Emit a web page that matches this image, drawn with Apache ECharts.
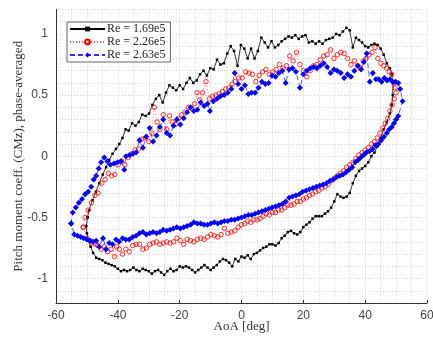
<!DOCTYPE html>
<html>
<head>
<meta charset="utf-8">
<script src="https://cdn.jsdelivr.net/npm/echarts@6/dist/echarts.min.js"></script>
<style>html,body{margin:0;padding:0;background:#fff}#c{width:433px;height:338px}</style>
</head>
<body>
<div id="c"></div>
<script>
const seriesNames = ['Re = 1.69e5', 'Re = 2.26e5', 'Re = 2.63e5'];
const xTicks = [-60, -40, -20, 0, 20, 40, 60];
const yTicks = [-1, -0.5, 0, 0.5, 1];

const blackAoA = [
-49.8,-49.3,-48.2,-47.1,-46.0,-44.9,-43.8,-42.8,-41.7,-40.6,
-39.5,-38.5,-37.5,-36.5,-35.4,-34.3,-33.2,-32.1,-31.0,-29.9,
-28.8,-27.7,-26.6,-25.5,-24.4,-23.3,-22.2,-21.1,-20.0,-18.9,
-17.8,-16.7,-15.6,-14.5,-13.4,-12.3,-11.2,-10.1,-9.0,-7.9,
-6.8,-5.7,-4.6,-3.5,-2.4,-1.3,-0.2,0.9,2.0,3.1,
4.2,5.3,6.4,7.5,8.6,9.7,10.8,11.9,13.0,14.1,
15.2,16.3,17.4,18.5,19.6,20.7,21.8,22.9,24.0,25.1,
26.2,27.3,28.4,29.5,30.6,31.7,32.8,33.9,35.0,36.0,
37.0,38.0,39.0,40.0,41.0,42.0,43.0,44.0,45.0,46.0,
47.0,48.0,48.6,49.0,
48.9,48.6,48.0,47.0,46.0,45.0,44.0,43.0,42.0,41.0,
40.0,39.0,38.0,37.0,36.0,35.0,34.0,33.0,32.0,31.0,
30.0,29.0,28.0,27.0,26.0,25.0,24.0,23.0,22.0,21.0,
20.0,19.0,18.0,17.0,16.0,15.0,14.0,13.0,12.0,11.0,
10.0,9.0,8.0,7.0,6.0,5.0,4.0,3.0,2.0,1.0,
0.0,-1.0,-2.0,-3.0,-4.0,-5.0,-6.0,-7.0,-8.0,-9.0,
-10.0,-11.0,-12.0,-13.0,-14.0,-15.0,-16.0,-17.0,-18.0,-19.0,
-20.0,-21.0,-22.0,-23.0,-24.0,-25.0,-26.0,-27.0,-28.0,-29.0,
-30.0,-31.0,-32.0,-33.0,-34.0,-35.0,-36.0,-37.0,-38.0,-39.0,
-40.0,-41.0,-42.0,-43.0,-44.0,-45.0,-46.0,-47.0,-48.0,-48.8,
-49.5,-50.0,-50.2,-49.8
];
const blackCm = [
-0.50,-0.44,-0.36,-0.29,-0.22,-0.15,-0.09,-0.03,0.02,0.06,
0.10,0.15,0.22,0.21,0.27,0.25,0.28,0.34,0.33,0.35,
0.42,0.47,0.50,0.44,0.52,0.58,0.56,0.54,0.58,0.55,
0.60,0.64,0.60,0.62,0.67,0.70,0.66,0.72,0.71,0.79,
0.75,0.76,0.84,0.90,0.86,0.74,0.91,0.88,0.80,0.88,
0.80,0.86,0.97,0.93,0.89,0.94,0.89,0.91,0.94,0.96,
0.98,0.97,0.99,0.96,0.98,0.99,0.93,0.94,0.92,0.94,
0.92,0.95,0.96,0.97,1.00,0.99,1.02,1.05,1.03,0.89,
0.97,0.95,0.93,0.90,0.89,0.91,0.92,0.91,0.88,0.83,
0.76,0.72,0.67,0.60,
0.50,0.42,0.35,0.28,0.22,0.15,0.08,0.03,0.00,-0.05,
-0.08,-0.10,-0.12,-0.16,-0.22,-0.30,-0.33,-0.34,-0.33,-0.31,
-0.37,-0.42,-0.45,-0.47,-0.49,-0.49,-0.49,-0.51,-0.54,-0.56,
-0.58,-0.62,-0.64,-0.63,-0.61,-0.62,-0.65,-0.67,-0.71,-0.73,
-0.72,-0.72,-0.74,-0.75,-0.77,-0.79,-0.80,-0.84,-0.81,-0.83,
-0.82,-0.86,-0.84,-0.90,-0.87,-0.85,-0.84,-0.86,-0.89,-0.91,
-0.93,-0.91,-0.89,-0.91,-0.93,-0.95,-0.93,-0.91,-0.90,-0.91,
-0.90,-0.93,-0.94,-0.92,-0.94,-0.97,-0.95,-0.93,-0.94,-0.96,
-0.94,-0.93,-0.92,-0.94,-0.93,-0.91,-0.93,-0.94,-0.93,-0.94,
-0.92,-0.90,-0.89,-0.88,-0.87,-0.85,-0.84,-0.83,-0.79,-0.74,
-0.69,-0.63,-0.57,-0.50
];

const redAoA = [
-51.2,-50.6,-49.6,-48.5,-47.4,-46.4,-45.2,-44.1,-43.1,-42.0,
-41.0,-39.9,-38.8,-37.7,-36.6,-35.5,-34.4,-33.3,-32.2,-31.1,
-30.0,-29.0,-28.2,-27.3,-26.4,-25.3,-24.2,-23.3,-22.4,-21.4,
-20.4,-19.3,-18.3,-17.2,-16.1,-15.2,-14.4,-13.5,-12.6,-11.5,
-10.4,-9.4,-8.3,-7.2,-6.2,-5.1,-4.1,-3.0,-2.0,-0.9,
0.2,1.3,2.4,3.5,4.6,5.7,6.8,7.9,9.0,10.1,
11.2,12.3,13.4,14.5,15.6,16.7,17.8,18.9,20.0,21.1,
22.2,23.3,24.4,25.5,26.6,27.7,28.8,29.9,31.0,32.1,
33.2,34.3,35.4,36.5,37.6,38.4,39.4,40.3,41.2,42.2,
43.2,44.1,45.1,46.0,46.9,47.8,48.6,49.2,49.7,50.0,
49.4,48.7,48.0,47.3,46.5,45.7,44.8,43.9,43.0,42.0,
41.0,40.0,39.0,38.0,37.0,36.0,35.0,34.0,33.0,32.0,
31.0,30.0,29.0,28.0,27.0,26.0,25.0,24.0,23.0,22.0,
21.0,20.0,19.0,18.0,17.0,16.0,15.0,14.0,13.0,12.0,
11.0,10.0,9.0,8.0,7.0,6.0,5.0,4.0,3.0,2.0,
1.0,0.0,-1.1,-2.2,-3.3,-4.4,-5.5,-6.6,-7.7,-8.8,
-9.9,-11.0,-12.1,-13.2,-14.3,-15.4,-16.5,-17.6,-18.7,-19.8,
-20.9,-22.0,-23.1,-24.2,-25.3,-26.4,-27.5,-28.6,-29.7,-30.8,
-31.9,-33.0,-34.1,-35.2,-36.3,-37.4,-38.5,-39.5,-40.4,-41.1,
-42.2,-43.3,-44.4,-45.4,-46.5,-47.3,-48.1,-49.0,-49.9,-51.2
];
const redCm = [
-0.58,-0.50,-0.44,-0.38,-0.32,-0.30,-0.22,-0.19,-0.14,-0.16,
-0.15,-0.07,-0.04,-0.07,-0.01,0.02,0.05,0.06,0.14,0.15,
0.12,0.19,0.40,0.28,0.22,0.34,0.22,0.33,0.28,0.26,
0.31,0.34,0.36,0.40,0.39,0.43,0.52,0.46,0.52,0.61,
0.47,0.49,0.50,0.51,0.53,0.55,0.56,0.59,0.61,0.64,
0.64,0.69,0.68,0.67,0.61,0.66,0.69,0.71,0.67,0.69,
0.71,0.75,0.72,0.74,0.82,0.78,0.85,0.75,0.70,0.65,
0.70,0.74,0.75,0.79,0.82,0.83,0.87,0.80,0.83,0.85,
0.84,0.80,0.75,0.78,0.74,0.72,0.78,0.80,0.83,0.85,
0.89,0.80,0.76,0.74,0.72,0.69,0.67,0.60,0.56,0.52,
0.47,0.42,0.37,0.31,0.27,0.23,0.19,0.15,0.12,0.10,
0.07,0.05,0.03,0.01,-0.02,-0.05,-0.07,-0.09,-0.12,-0.14,
-0.16,-0.18,-0.20,-0.23,-0.25,-0.26,-0.28,-0.29,-0.31,-0.32,
-0.34,-0.35,-0.37,-0.37,-0.39,-0.40,-0.40,-0.42,-0.44,-0.44,
-0.46,-0.46,-0.48,-0.47,-0.49,-0.51,-0.52,-0.52,-0.54,-0.53,
-0.55,-0.56,-0.58,-0.61,-0.62,-0.63,-0.59,-0.64,-0.66,-0.65,
-0.64,-0.66,-0.68,-0.67,-0.68,-0.70,-0.69,-0.68,-0.72,-0.69,
-0.67,-0.70,-0.71,-0.70,-0.71,-0.72,-0.70,-0.71,-0.72,-0.75,
-0.76,-0.72,-0.72,-0.73,-0.78,-0.76,-0.80,-0.76,-0.74,-0.82,
-0.76,-0.78,-0.74,-0.76,-0.73,-0.72,-0.71,-0.69,-0.67,-0.58
];

const blueAoA = [
-55.1,-54.6,-53.6,-52.6,-51.6,-50.6,-49.6,-48.6,-47.8,-47.0,
-46.2,-45.4,-44.4,-43.4,-42.4,-41.2,-40.1,-39.0,-37.9,-37.4,
-36.2,-35.1,-34.1,-33.0,-31.9,-30.8,-29.7,-28.6,-27.5,-26.4,
-25.3,-24.2,-23.1,-22.0,-20.9,-19.8,-18.7,-17.6,-16.5,-15.4,
-14.3,-13.2,-12.1,-11.0,-10.2,-9.1,-7.9,-6.8,-5.6,-4.4,
-3.3,-2.2,-1.1,0.0,1.1,2.2,3.3,4.4,5.5,6.6,
7.7,8.8,9.9,11.0,12.1,13.2,14.3,15.4,16.5,17.6,
18.9,20.0,21.1,22.2,23.3,24.4,25.5,26.6,27.7,28.8,
29.9,31.0,32.1,33.2,34.3,35.4,36.5,37.6,38.7,39.6,
40.5,41.5,42.5,43.5,44.4,45.3,46.2,47.1,48.0,48.9,
49.8,50.7,51.3,52.1,
50.7,50.0,49.3,48.6,47.8,47.0,46.1,45.2,44.3,43.3,
42.4,41.4,40.4,39.5,38.6,37.7,36.8,35.8,34.8,33.8,
32.8,31.8,30.8,29.7,28.6,27.5,26.4,25.3,24.2,23.1,
22.0,20.9,19.8,18.7,17.6,16.5,15.4,14.3,13.2,12.1,
11.0,9.9,8.8,7.7,6.6,5.5,4.4,3.3,2.2,1.1,
0.0,-1.1,-2.2,-3.3,-4.4,-5.5,-6.6,-7.7,-8.8,-9.9,
-11.0,-12.1,-13.2,-14.3,-15.4,-16.5,-17.6,-18.7,-19.8,-20.9,
-22.0,-23.1,-24.2,-25.3,-26.4,-27.5,-28.6,-29.7,-30.8,-31.9,
-33.0,-34.1,-35.2,-36.3,-37.4,-38.5,-39.6,-40.6,-41.7,-42.8,
-43.8,-44.8,-46.0,-47.0,-48.0,-49.0,-50.0,-51.0,-52.0,-53.0,
-54.1,-55.1
];
const blueCm = [
-0.55,-0.46,-0.42,-0.38,-0.35,-0.31,-0.29,-0.25,-0.19,-0.16,
-0.10,-0.05,-0.01,-0.04,-0.07,-0.06,-0.05,-0.04,-0.11,0.00,
0.01,0.02,0.03,0.13,0.07,0.16,0.23,0.12,0.17,0.24,
0.30,0.19,0.17,0.25,0.30,0.26,0.31,0.36,0.40,0.37,
0.38,0.44,0.41,0.43,0.37,0.45,0.47,0.49,0.50,0.52,
0.55,0.68,0.59,0.55,0.58,0.51,0.52,0.52,0.56,0.61,
0.59,0.60,0.66,0.65,0.68,0.70,0.60,0.71,0.72,0.69,
0.56,0.67,0.70,0.72,0.73,0.72,0.74,0.76,0.73,0.68,
0.71,0.70,0.68,0.64,0.67,0.65,0.70,0.74,0.71,0.77,
0.84,0.61,0.68,0.63,0.63,0.61,0.64,0.62,0.63,0.61,
0.61,0.60,0.55,0.45,
0.33,0.30,0.27,0.24,0.22,0.19,0.16,0.13,0.10,0.09,
0.06,0.04,0.03,0.01,-0.01,-0.03,-0.05,-0.09,-0.11,-0.13,
-0.15,-0.16,-0.17,-0.19,-0.20,-0.22,-0.23,-0.24,-0.25,-0.26,
-0.27,-0.28,-0.29,-0.31,-0.32,-0.33,-0.34,-0.37,-0.39,-0.40,
-0.41,-0.42,-0.43,-0.44,-0.45,-0.46,-0.47,-0.48,-0.48,-0.49,
-0.50,-0.51,-0.52,-0.52,-0.53,-0.53,-0.54,-0.55,-0.54,-0.55,
-0.56,-0.56,-0.55,-0.55,-0.54,-0.56,-0.57,-0.58,-0.59,-0.58,
-0.59,-0.60,-0.61,-0.60,-0.62,-0.63,-0.62,-0.63,-0.64,-0.62,
-0.63,-0.65,-0.66,-0.68,-0.68,-0.67,-0.70,-0.68,-0.72,-0.71,
-0.76,-0.67,-0.74,-0.69,-0.70,-0.69,-0.68,-0.67,-0.66,-0.65,
-0.64,-0.55
];

function zip(a, b) { return a.map((v, i) => [v, b[i]]); }

const serif = '"Liberation Serif", "DejaVu Serif", serif';
const sans = '"Liberation Sans", Arial, sans-serif';
const gridLine = { show: true, lineStyle: { color: '#cfcfcf', type: [1, 2], width: 1 } };

const chart = echarts.init(document.getElementById('c'), null, { renderer: 'canvas' });
chart.setOption({
  animation: false,
  backgroundColor: '#fff',
  grid: { left: 56, right: 6, top: 9.5, bottom: 35, containLabel: false, outerBoundsMode: 'none' },
  legend: {
    left: 67, top: 22, orient: 'vertical',
    backgroundColor: '#fff', borderColor: '#666', borderWidth: 1,
    padding: [1, 5, 1, 2], itemGap: 1, itemWidth: 35, itemHeight: 6,
    textStyle: { fontFamily: serif, fontSize: 12, color: '#222', lineHeight: 12, padding: [0, 0, 0, -3] },
    data: seriesNames
  },
  xAxis: {
    type: 'value', min: xTicks[0], max: xTicks[xTicks.length - 1], interval: 20,
    name: 'AoA [deg]', nameLocation: 'middle', nameGap: 24, nameMoveOverlap: false,
    nameTextStyle: { fontFamily: serif, fontSize: 13, color: '#333', verticalAlign: 'middle', lineHeight: 13 },
    axisLine: { show: true, onZero: false, lineStyle: { color: '#333', width: 1 } },
    axisTick: { show: true, inside: true, length: 3, lineStyle: { color: '#333' } },
    axisLabel: { fontFamily: sans, fontSize: 12, color: '#444', margin: 7 },
    splitLine: gridLine,
    minorTick: { show: false, splitNumber: 4 },
    minorSplitLine: gridLine
  },
  yAxis: {
    type: 'value', min: -1.2, max: 1.2, interval: 0.1,
    name: 'Pitch moment coeff. (CMz), phase-averaged', nameLocation: 'middle', nameGap: 31, nameMoveOverlap: false,
    nameTextStyle: { fontFamily: serif, fontSize: 13, color: '#333' },
    axisLine: { show: true, onZero: false, lineStyle: { color: '#333', width: 1 } },
    axisTick: { show: false },
    axisLabel: {
      fontFamily: sans, fontSize: 12, color: '#444', margin: 8,
      formatter: function (v) {
        const r = Math.round(v * 10) / 10;
        for (const t of yTicks) { if (Math.abs(t - r) < 1e-6) return String(t); }
        return '';
      }
    },
    splitLine: gridLine
  },
  series: [
    {
      name: seriesNames[0], type: 'line', data: zip(blackAoA, blackCm),
      symbol: 'rect', symbolSize: 2.5, showSymbol: true,
      lineStyle: { color: '#000', width: 0.8 },
      itemStyle: { color: '#000' }, z: 2
    },
    {
      name: seriesNames[1], type: 'line', data: zip(redAoA, redCm),
      symbol: 'circle', symbolSize: 4.5, showSymbol: true,
      lineStyle: { color: '#ff5050', width: 0.8, type: [1, 2] },
      itemStyle: { color: 'rgba(255,255,255,0)', borderColor: '#ff0000', borderWidth: 0.8 }, z: 3
    },
    {
      name: seriesNames[2], type: 'line', data: zip(blueAoA, blueCm),
      symbol: 'diamond', symbolSize: 6, showSymbol: true,
      lineStyle: { color: '#3030ff', width: 0.8, type: [5, 3] },
      itemStyle: { color: '#0000ff' }, z: 4
    }
  ]
});
</script>
</body>
</html>
